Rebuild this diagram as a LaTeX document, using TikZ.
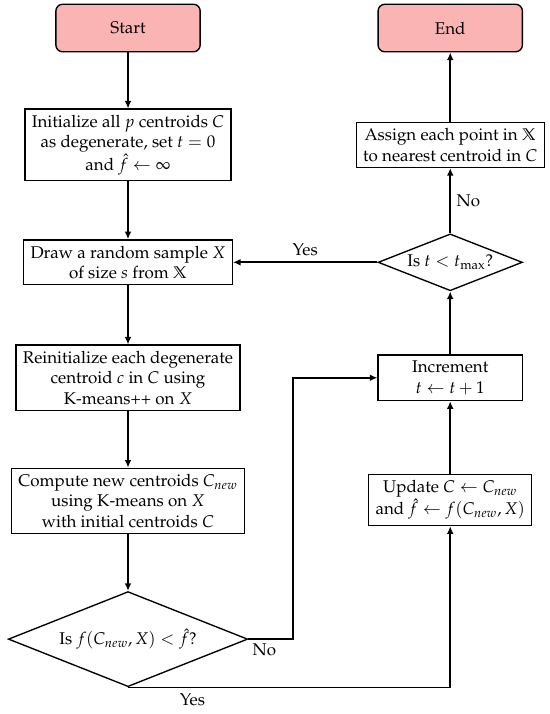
\documentclass[tikz,border=0pt]{standalone}
\usepackage[T1]{fontenc}
\usepackage{mathpazo}
\usepackage{amssymb}
\usetikzlibrary{positioning, arrows.meta, shapes.geometric}
\definecolor{termpink}{RGB}{250,180,180}

\tikzset{
  term/.style={draw, thick, rounded corners=4pt, fill=termpink, minimum width=85pt, minimum height=28pt},
  proc/.style={draw, thick, align=center, inner xsep=4pt, inner ysep=3.5pt, minimum width=85pt},
  decide/.style={draw, thick, diamond, inner sep=0pt},
  flow/.style={line width=1pt, -{Latex[length=4.5pt,width=4pt]}},
}

\begin{document}
\begin{tikzpicture}
  \useasboundingbox (0,0) rectangle (11.385,-14.78);

  % left column
  \node[term] (start) at (2.65,-0.58) {Start};
  \node[proc] (init) at (2.65,-3.00) {Initialize all $p$ centroids $C$\\as degenerate, set $t=0$\\and $\hat{f}\leftarrow\infty$};
  \node[proc] (sample) at (2.65,-5.43) {Draw a random sample $X$\\of size $s$ from $\mathbb{X}$};
  \node[proc] (reinit) at (2.65,-7.82) {Reinitialize each degenerate\\centroid $c$ in $C$ using\\K-means++ on $X$};
  \node[proc] (kmeans) at (2.65,-10.37) {Compute new centroids $C_{new}$\\using K-means on $X$\\with initial centroids $C$};
  \node[decide, aspect=2.5, minimum width=141pt, minimum height=56pt] (improve) at (2.65,-13.23) {Is $f(C_{new},X)<\hat{f}$?};

  % right column
  \node[term] (end) at (9.32,-0.58) {End};
  \node[proc] (assign) at (9.32,-3.00) {Assign each point in $\mathbb{X}$\\to nearest centroid in $C$};
  \node[decide, aspect=2.54, minimum width=85pt, minimum height=33.5pt] (iter) at (9.32,-5.43) {Is $t<t_{\max}$?};
  \node[proc] (incr) at (9.32,-7.82) {Increment\\$t\leftarrow t+1$};
  \node[proc] (update) at (9.32,-10.35) {Update $C\leftarrow C_{new}$\\and $\hat{f}\leftarrow f(C_{new},X)$};

  % connectors
  \draw[flow] (start) -- (init);
  \draw[flow] (init) -- (sample);
  \draw[flow] (sample) -- (reinit);
  \draw[flow] (reinit) -- (kmeans);
  \draw[flow] (kmeans) -- (improve);
  \draw[flow] (improve.east) node[below right, inner sep=2pt] {No} -- ++(0.93,0) |- (incr.west);
  \draw[flow] (improve.south) -| node[below, pos=0.1] {Yes} (update.south);
  \draw[flow] (update) -- (incr);
  \draw[flow] (incr) -- (iter);
  \draw[flow] (iter) -- node[right] {No} (assign);
  \draw[flow] (assign) -- (end);
  \draw[flow] (iter) -- node[above] {Yes} (sample);
\end{tikzpicture}
\end{document}
